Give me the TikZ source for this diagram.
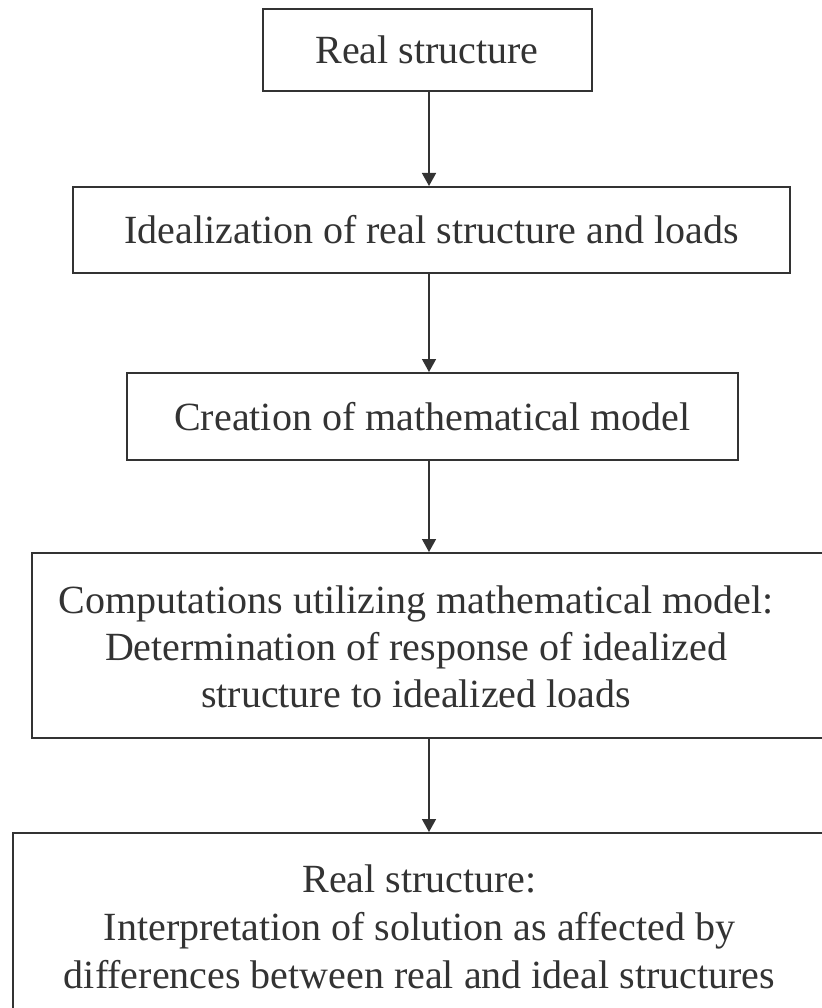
\documentclass[tikz,border=0pt]{standalone}
\usepackage{fontspec}
\setmainfont{Liberation Serif}
\usetikzlibrary{arrows.meta}
\definecolor{ink}{HTML}{333333}
\begin{document}
\begin{tikzpicture}[x=1pt,y=-1pt,
  box/.style={draw=ink, line width=2pt, rectangle, inner sep=0pt},
  txt/.style={text=ink, align=center, font=\fontsize{40}{47}\selectfont, inner sep=0pt},
  arr/.style={draw=ink, line width=1.5pt, -{Triangle[length=13pt,width=14pt]}}]
\useasboundingbox[fill=white] (0,0) rectangle (821,1008);
\node[box, txt, minimum width=329pt, minimum height=82pt] (b1) at (427,50) {Real structure};
\node[box, txt, minimum width=717pt, minimum height=86pt] (b2) at (431.5,230) {Idealization of real structure and loads};
\node[box, txt, minimum width=611pt, minimum height=87pt] (b3) at (432.5,416.5) {Creation of mathematical model};
\node[box, minimum width=798pt, minimum height=185pt] (b4) at (431,645.5) {};
\node[txt] (t4) at (416,647) {Computations utilizing mathematical model:\\ Determination of response of idealized\\ structure to idealized loads};
\node[box, txt, font=\fontsize{40}{48}\selectfont, minimum width=813pt, minimum height=187pt] (b5) at (419.5,926.5) {Real structure:\\ Interpretation of solution as affected by\\ differences between real and ideal structures};
\coordinate (ax) at (429,0);
\draw[arr] (ax |- b1.south) -- (ax |- b2.north);
\draw[arr] (ax |- b2.south) -- (ax |- b3.north);
\draw[arr] (ax |- b3.south) -- (ax |- b4.north);
\draw[arr] (ax |- b4.south) -- (ax |- b5.north);
\end{tikzpicture}
\end{document}
